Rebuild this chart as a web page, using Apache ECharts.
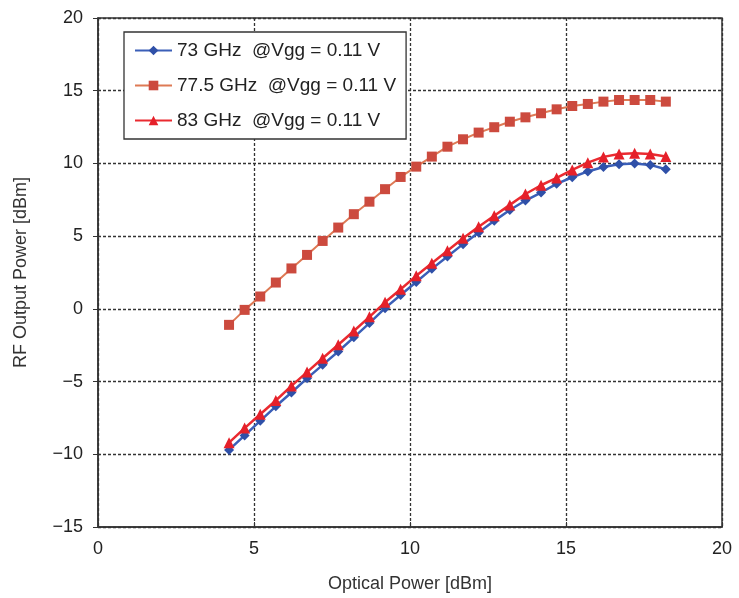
<!DOCTYPE html>
<html>
<head>
<meta charset="utf-8">
<script src="https://cdn.jsdelivr.net/npm/echarts@6/dist/echarts.min.js"></script>
<style>
  html, body { margin: 0; padding: 0; background: #fff; }
  #chart { width: 739px; height: 598px; }
</style>
</head>
<body>
<div id="chart"></div>
<script>
// optical power steps (dBm)
const opticalPower = [4.2, 4.7, 5.2, 5.7, 6.2, 6.7, 7.2, 7.7, 8.2, 8.7, 9.2, 9.7, 10.2, 10.7,
  11.2, 11.7, 12.2, 12.7, 13.2, 13.7, 14.2, 14.7, 15.2, 15.7, 16.2, 16.7, 17.2, 17.7, 18.2];

// RF output power (dBm)
const rf73 = [-9.7, -8.7, -7.7, -6.7, -5.75, -4.78, -3.85, -2.93, -1.96, -0.98, 0.05, 0.95, 1.85, 2.75,
  3.6, 4.45, 5.25, 6.05, 6.8, 7.45, 8.0, 8.6, 9.05, 9.45, 9.75, 9.95, 10.0, 9.9, 9.6];
const rf775 = [-1.1, -0.07, 0.85, 1.81, 2.78, 3.71, 4.67, 5.59, 6.51, 7.37, 8.23, 9.07, 9.78, 10.47,
  11.15, 11.66, 12.12, 12.49, 12.87, 13.17, 13.45, 13.72, 13.95, 14.09, 14.25, 14.36, 14.36, 14.36, 14.25];
const rf83 = [-9.2, -8.2, -7.25, -6.3, -5.3, -4.35, -3.4, -2.47, -1.52, -0.55, 0.45, 1.35, 2.27, 3.14,
  4.0, 4.85, 5.65, 6.4, 7.15, 7.9, 8.5, 9.0, 9.55, 10.05, 10.45, 10.65, 10.7, 10.65, 10.47];

const seriesNames = ['73 GHz  @Vgg = 0.11 V', '77.5 GHz  @Vgg = 0.11 V', '83 GHz  @Vgg = 0.11 V'];

const pairs = ys => opticalPower.map((x, i) => [x, ys[i]]);

const chart = echarts.init(document.getElementById('chart'));
const font = 'Liberation Sans, Arial, sans-serif';
const gridLine = { show: true, lineStyle: { color: '#333', type: [3, 2], width: 1.3 } };

chart.setOption({
  animation: false,
  textStyle: { fontFamily: font },
  grid: { left: 98, right: 17, top: 18, bottom: 71, show: true, borderColor: '#333', borderWidth: 1.5 },
  legend: {
    orient: 'vertical',
    left: 124, top: 32,
    padding: [9, 10, 9, 10],
    itemGap: 16,
    itemWidth: 37, itemHeight: 12,
    borderColor: '#333', borderWidth: 1.3,
    backgroundColor: '#fff',
    textStyle: { fontSize: 19, color: '#222', fontFamily: font },
    data: seriesNames
  },
  xAxis: {
    type: 'value', min: 0, max: 20, interval: 5,
    name: 'Optical Power [dBm]', nameLocation: 'middle', nameGap: 48,
    nameTextStyle: { fontSize: 18, color: '#333' },
    axisLine: { onZero: false, lineStyle: { color: '#333', width: 1.5 } },
    axisTick: { inside: true, length: 5, lineStyle: { color: '#333' } },
    axisLabel: { fontSize: 18, color: '#222', margin: 13 },
    splitLine: gridLine
  },
  yAxis: {
    type: 'value', min: -15, max: 20, interval: 5,
    name: 'RF Output Power [dBm]', nameLocation: 'middle', nameGap: 68,
    nameTextStyle: { fontSize: 18, color: '#333' },
    axisLine: { show: true, lineStyle: { color: '#333', width: 1.5 } },
    axisTick: { show: true, length: 5, lineStyle: { color: '#333' } },
    axisLabel: { fontSize: 18, color: '#222', margin: 15,
      formatter: v => String(v).replace('-', '\u2212') },
    splitLine: gridLine
  },
  series: [
    {
      name: seriesNames[0], type: 'line', data: pairs(rf73),
      symbol: 'diamond', symbolSize: 10,
      lineStyle: { color: '#3b5fb8', width: 2.5 },
      itemStyle: { color: '#2f50a8' }
    },
    {
      name: seriesNames[1], type: 'line', data: pairs(rf775),
      symbol: 'rect', symbolSize: 10,
      lineStyle: { color: '#de7a55', width: 2 },
      itemStyle: { color: '#cc4a3e' }
    },
    {
      name: seriesNames[2], type: 'line', data: pairs(rf83),
      symbol: 'triangle', symbolSize: 11,
      lineStyle: { color: '#ea2a30', width: 2.5 },
      itemStyle: { color: '#e5202a' }
    }
  ]
});
</script>
</body>
</html>
